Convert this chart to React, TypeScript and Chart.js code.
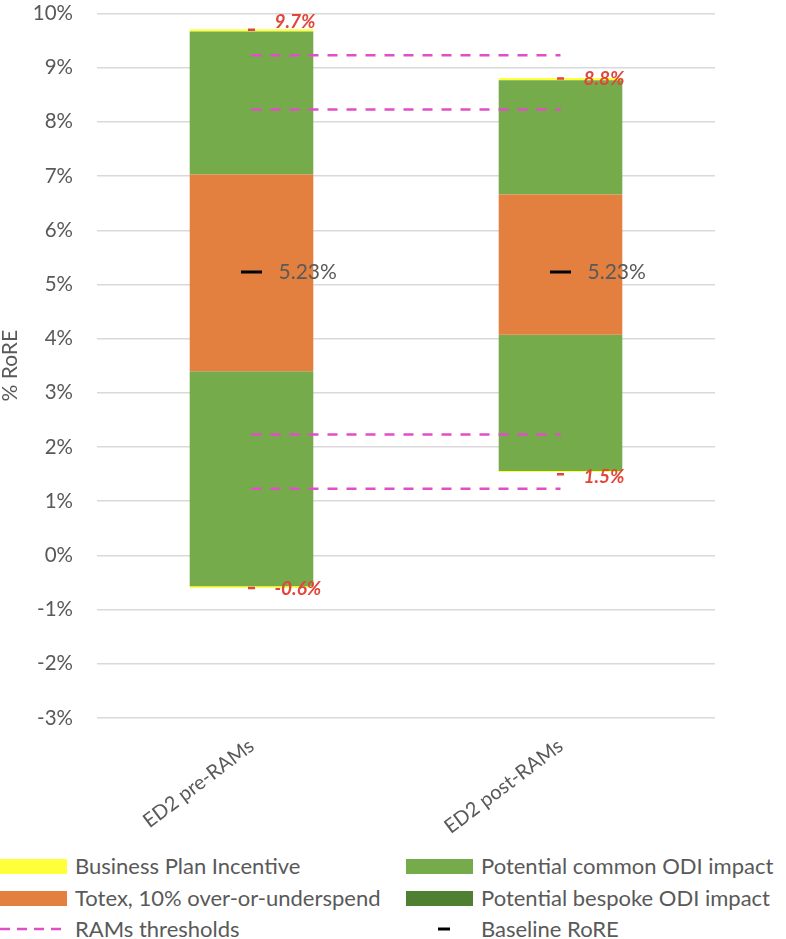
import React, { useEffect, useRef } from "react";
import { Chart, registerables } from "chart.js";

Chart.register(...registerables);

// Return on Regulatory Equity ranges, in % points
const categories = ["ED2 pre-RAMs", "ED2 post-RAMs"];
const baselineRoRE = [5.23, 5.23];
const totexLow = [3.4, 4.07];
const totexHigh = [7.03, 6.66];
const commonOdiBottom = [-0.57, 1.56];
const commonOdiTop = [9.67, 8.77];
const bespokeOdiSize = [0, 0];
const bpiBottom = [-0.6, 1.54];
const bpiTop = [9.71, 8.81];
const rangeHigh = [9.7, 8.8];
const rangeLow = [-0.6, 1.5];
const ramsThresholds = [9.23, 8.23, 2.23, 1.23];
const yMin = -3;
const yMax = 10;

const GREY = "#595959";
const YELLOW = "#FFFF3A";
const ORANGE = "#E3803F";
const GREEN = "#75AB4A";
const DARK_GREEN = "#4F7F30";
const PINK = "#E14FC7";
const RED = "#E2453A";
const FONT = "Lato";

const pointLabels = {
  id: "pointLabels",
  afterDatasetsDraw(chart: any) {
    const { ctx } = chart;
    chart.data.datasets.forEach((ds: any, di: number) => {
      const style = ds.labelStyle;
      if (!style) return;
      const meta = chart.getDatasetMeta(di);
      meta.data.forEach((pt: any, i: number) => {
        const v = ds.data[i];
        ctx.save();
        ctx.font = style.font;
        ctx.fillStyle = style.color;
        ctx.textAlign = "left";
        ctx.textBaseline = "middle";
        const dy = style.nudgeY ? style.nudgeY[i] : 0;
        ctx.fillText(style.format(v), pt.x + style.dx, pt.y + dy);
        ctx.restore();
      });
    });
  },
};

function span(lo: number[], hi: number[]) {
  return categories.map((_, i) => [lo[i], hi[i]]);
}

function LegendSwatch({ color }: { color: string }) {
  return <div style={{ width: 67, height: 15, background: color }} />;
}

function LegendItem({ x, y, marker, text }: { x: number; y: number; marker: React.ReactNode; text: string }) {
  return (
    <div
      style={{
        position: "absolute",
        left: x,
        top: y - 14,
        height: 28,
        display: "flex",
        alignItems: "center",
        whiteSpace: "nowrap",
      }}
    >
      <div style={{ width: 75, display: "flex", alignItems: "center" }}>{marker}</div>
      <span style={{ fontFamily: FONT, fontSize: 22, color: GREY, lineHeight: "28px" }}>{text}</span>
    </div>
  );
}

export default function App() {
  const canvasRef = useRef<HTMLCanvasElement | null>(null);

  useEffect(() => {
    let chart: Chart | null = null;
    let cancelled = false;

    const build = () => {
      if (cancelled || !canvasRef.current) return;
      const barCommon = {
        type: "bar" as const,
        categoryPercentage: 0.4,
        barPercentage: 1,
        borderWidth: 0,
        order: 3,
      };
      const thresholdSets = ramsThresholds.map((t) => ({
        type: "line" as const,
        label: "RAMs thresholds",
        data: categories.map(() => t),
        borderColor: PINK,
        borderWidth: 2.5,
        borderDash: [10, 9],
        pointRadius: 0,
        fill: false,
        order: 1,
      }));

      chart = new Chart(canvasRef.current, {
        data: {
          labels: categories,
          datasets: [
            { ...barCommon, label: "Totex, 10% over-or-underspend", data: span(totexLow, totexHigh), backgroundColor: ORANGE },
            { ...barCommon, label: "Potential common ODI impact", data: span(totexHigh, commonOdiTop), backgroundColor: GREEN },
            { ...barCommon, label: "Potential common ODI impact", data: span(commonOdiBottom, totexLow), backgroundColor: GREEN },
            {
              ...barCommon,
              label: "Potential bespoke ODI impact",
              data: categories.map((_, i) => [commonOdiTop[i], commonOdiTop[i] + bespokeOdiSize[i]]),
              backgroundColor: DARK_GREEN,
            },
            { ...barCommon, label: "Business Plan Incentive", data: span(commonOdiTop, bpiTop), backgroundColor: YELLOW },
            { ...barCommon, label: "Business Plan Incentive", data: span(bpiBottom, commonOdiBottom), backgroundColor: YELLOW },
            ...thresholdSets,
            {
              type: "line" as const,
              label: "Baseline RoRE",
              data: baselineRoRE,
              showLine: false,
              pointStyle: "line",
              pointRadius: 10.5,
              pointBorderWidth: 3,
              pointBorderColor: "#000000",
              pointBackgroundColor: "#000000",
              order: 0,
              labelStyle: { font: `21px ${FONT}`, color: GREY, dx: 27, format: (v: number) => v.toFixed(2) + "%" },
            } as any,
            {
              type: "line" as const,
              label: "Upper range",
              data: rangeHigh,
              showLine: false,
              pointStyle: "line",
              pointRadius: 3.5,
              pointBorderWidth: 2.5,
              pointBorderColor: RED,
              order: 0,
              labelStyle: {
                font: `italic bold 19px ${FONT}`,
                color: RED,
                dx: 23,
                nudgeY: [-8, 0],
                format: (v: number) => v.toFixed(1) + "%",
              },
            } as any,
            {
              type: "line" as const,
              label: "Lower range",
              data: rangeLow,
              showLine: false,
              pointStyle: "line",
              pointRadius: 3.5,
              pointBorderWidth: 2.5,
              pointBorderColor: RED,
              order: 0,
              labelStyle: {
                font: `italic bold 19px ${FONT}`,
                color: RED,
                dx: 23,
                nudgeY: [1, 3],
                format: (v: number) => v.toFixed(1) + "%",
              },
            } as any,
          ],
        } as any,
        options: {
          animation: false,
          responsive: false,
          maintainAspectRatio: false,
          layout: { padding: { top: 13, right: 71, bottom: 0, left: 0 } },
          plugins: { legend: { display: false }, tooltip: { enabled: false } },
          scales: {
            x: {
              stacked: true,
              grid: { display: false },
              border: { display: false },
              ticks: {
                color: GREY,
                font: { family: FONT, size: 20 },
                minRotation: 37,
                maxRotation: 37,
                padding: 8,
              },
              afterFit: (s: any) => {
                s.height = 127;
              },
            },
            y: {
              min: yMin,
              max: yMax,
              ticks: {
                stepSize: 1,
                color: GREY,
                font: { family: FONT, size: 20.5 },
                padding: 0,
                callback: (v: any) => `${v}%`,
              },
              grid: {
                color: "#D9D9D9",
                lineWidth: 1.5,
                drawTicks: true,
                tickLength: 24,
                tickColor: "rgba(0,0,0,0)",
              },
              border: { display: false },
              title: {
                display: true,
                text: "% RoRE",
                color: GREY,
                font: { family: FONT, size: 21, lineHeight: 1 },
                padding: 0,
              },
              afterFit: (s: any) => {
                s.width = 97;
              },
            },
          },
        } as any,
        plugins: [pointLabels],
      });
    };

    const fonts = (document as any).fonts;
    if (fonts && fonts.load) {
      Promise.all([fonts.load(`20px ${FONT}`), fonts.load(`italic bold 19px ${FONT}`)])
        .catch(() => null)
        .then(build);
    } else {
      build();
    }

    return () => {
      cancelled = true;
      if (chart) chart.destroy();
    };
  }, []);

  const dashed = (
    <svg width={67} height={6}>
      <line x1={0} y1={3} x2={67} y2={3} stroke={PINK} strokeWidth={2.5} strokeDasharray="10 7" />
    </svg>
  );
  const baselineMark = (
    <svg width={67} height={6}>
      <line x1={32} y1={3} x2={44} y2={3} stroke="#000" strokeWidth={3} />
    </svg>
  );

  return (
    <div style={{ position: "absolute", left: 0, top: 0, width: 786, height: 939, background: "#fff", overflow: "hidden" }}>
      <canvas ref={canvasRef} width={786} height={845} style={{ display: "block", width: 786, height: 845 }} />
      <LegendItem x={0} y={866} marker={<LegendSwatch color={YELLOW} />} text="Business Plan Incentive" />
      <LegendItem x={0} y={898} marker={<LegendSwatch color={ORANGE} />} text="Totex, 10% over-or-underspend" />
      <LegendItem x={0} y={929} marker={dashed} text="RAMs thresholds" />
      <LegendItem x={406} y={866} marker={<LegendSwatch color={GREEN} />} text="Potential common ODI impact" />
      <LegendItem x={406} y={898} marker={<LegendSwatch color={DARK_GREEN} />} text="Potential bespoke ODI impact" />
      <LegendItem x={406} y={929} marker={baselineMark} text="Baseline RoRE" />
    </div>
  );
}
